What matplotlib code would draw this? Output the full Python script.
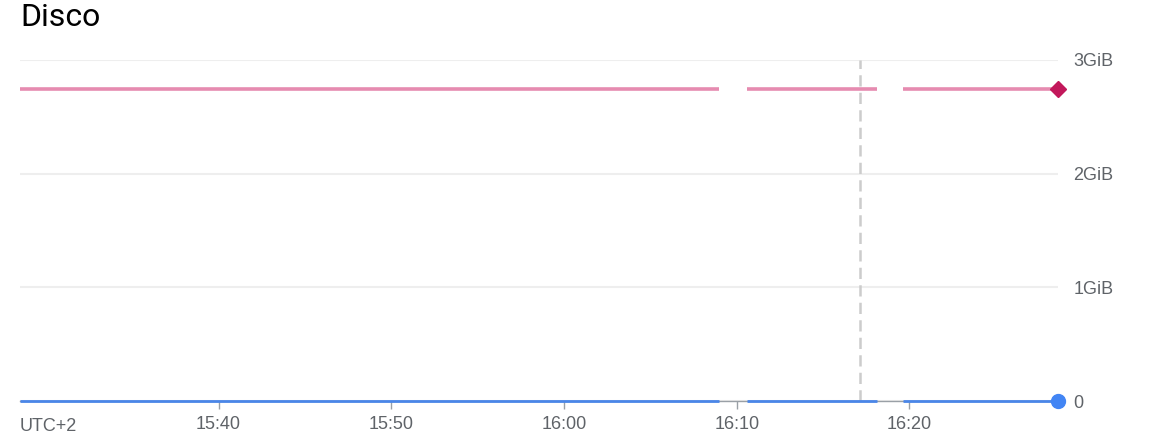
import numpy as np
import matplotlib
matplotlib.use("Agg")
import matplotlib.pyplot as plt

# Time in minutes after 15:00 (UTC+2); NaN marks gaps in the data
times = [28.5, 69.0, np.nan, 70.6, 78.1, np.nan, 79.6, 88.6]
total_gib = [2.745, 2.745, np.nan, 2.745, 2.745, np.nan, 2.745, 2.745]
used_gib = [0.0, 0.0, np.nan, 0.0, 0.0, np.nan, 0.0, 0.0]
cursor_time = 77.13
x_ticks = [40, 50, 60, 70, 80]
x_tick_labels = ["15:40", "15:50", "16:00", "16:10", "16:20"]
y_ticks = [0, 1, 2, 3]
y_tick_labels = ["0", "1GiB", "2GiB", "3GiB"]
title = "Disco"
tz_label = "UTC+2"

W, H = 1158, 440
fig = plt.figure(figsize=(W / 100, H / 100), dpi=100)
ax = fig.add_axes([20 / W, 1 - 401 / H, (1058 - 20) / W, (401 - 60) / H])

ax.set_xlim(28.5, 88.6)
ax.set_ylim(0, 3)

for s in ["top", "left", "right"]:
    ax.spines[s].set_visible(False)
ax.spines["bottom"].set_color("#9aa0a6")
ax.spines["bottom"].set_linewidth(1.0)

ax.yaxis.tick_right()
ax.set_yticks(y_ticks)
ax.set_yticklabels(y_tick_labels)
ax.tick_params(axis="y", length=0, pad=11, labelsize=13, labelcolor="#5f6368")
for lbl in ax.get_yticklabels():
    lbl.set_fontfamily("Liberation Sans")
    lbl.set_verticalalignment("center_baseline")
ax.grid(axis="y", color="#eeeeee", linewidth=1.5)
ax.set_axisbelow(True)

ax.set_xticks(x_ticks)
ax.set_xticklabels(x_tick_labels)
ax.tick_params(axis="x", length=6, width=1, color="#9aa0a6", pad=5,
               labelsize=13, labelcolor="#5f6368")
for lbl in ax.get_xticklabels():
    lbl.set_fontfamily("Liberation Sans")

ax.axvline(cursor_time, color="#cccccc", linewidth=1.8, linestyle=(0, (4.5, 2.5)),
           ymin=0.0, ymax=1.0, zorder=1)

ax.plot(times, total_gib, color="#e68bb0", linewidth=2.6, solid_capstyle="butt",
        zorder=3, clip_on=False)
ax.plot(times, used_gib, color="#4a86e8", linewidth=2.0, solid_capstyle="butt",
        zorder=3, clip_on=False)

# end markers on the last data point
ax.plot([times[-1]], [total_gib[-1]], marker="D", markersize=8, color="#c2185b",
        linestyle="none", zorder=4, clip_on=False)
ax.plot([times[-1]], [used_gib[-1]], marker="o", markersize=10, color="#4285f4",
        linestyle="none", zorder=4, clip_on=False)

fig.text(20 / W, 1 - 18 / H, title, fontsize=23, family="Roboto",
         color="#000000", va="center", ha="left")
fig.text(20 / W, 1 - 426 / H, tz_label, fontsize=13, family="Liberation Sans",
         color="#5f6368", va="center", ha="left")

fig.savefig("out.png", dpi=100, facecolor="white")
